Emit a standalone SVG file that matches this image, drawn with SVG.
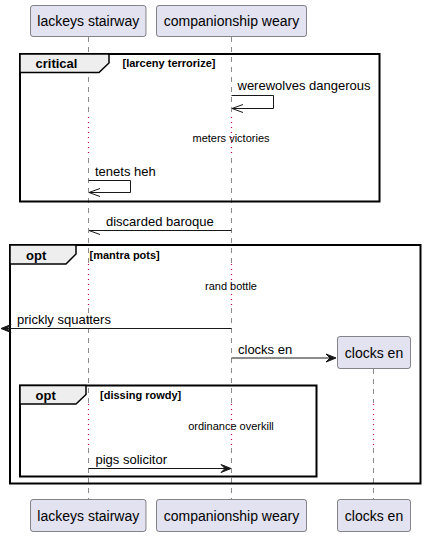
<svg xmlns="http://www.w3.org/2000/svg" width="425" height="536" viewBox="0 0 425 536">
<style>
.part rect{fill:#E2E2F0;stroke:#181818;stroke-width:0.5}
.part text{font-family:"Liberation Sans",Arial,sans-serif;font-size:14px;fill:#000}
.life{stroke:#181818;stroke-width:0.5;stroke-dasharray:5,5;fill:none}
.delay{stroke:#C8005A;stroke-width:1.2;stroke-dasharray:1,4;fill:none}
.frame{fill:none;stroke:#000;stroke-width:2}
.tab{fill:#EEEEEE;stroke:#000;stroke-width:1.5}
.flabel{font-family:"Liberation Sans",Arial,sans-serif;font-size:13px;font-weight:bold}
.guard{font-family:"Liberation Sans",Arial,sans-serif;font-size:11px;font-weight:bold}
.msg{font-family:"Liberation Sans",Arial,sans-serif;font-size:13px}
.dtext{font-family:"Liberation Sans",Arial,sans-serif;font-size:11px}
.line{stroke:#181818;stroke-width:1;fill:none}
.head{fill:#181818;stroke:#181818;stroke-width:1}
</style>
<g id="lifelines">
<line class="life" x1="88.5" y1="37" x2="88.5" y2="116"/>
<line class="delay" x1="88.5" y1="117" x2="88.5" y2="157"/>
<line class="life" x1="88.5" y1="158" x2="88.5" y2="263"/>
<line class="delay" x1="88.5" y1="264" x2="88.5" y2="307"/>
<line class="life" x1="88.5" y1="308" x2="88.5" y2="403"/>
<line class="delay" x1="88.5" y1="404" x2="88.5" y2="447"/>
<line class="life" x1="88.5" y1="448" x2="88.5" y2="499"/>
<line class="life" x1="231.5" y1="37" x2="231.5" y2="116"/>
<line class="delay" x1="231.5" y1="117" x2="231.5" y2="157"/>
<line class="life" x1="231.5" y1="158" x2="231.5" y2="263"/>
<line class="delay" x1="231.5" y1="264" x2="231.5" y2="307"/>
<line class="life" x1="231.5" y1="308" x2="231.5" y2="403"/>
<line class="delay" x1="231.5" y1="404" x2="231.5" y2="447"/>
<line class="life" x1="231.5" y1="448" x2="231.5" y2="499"/>
<line class="life" x1="373.5" y1="369" x2="373.5" y2="403"/>
<line class="delay" x1="373.5" y1="404" x2="373.5" y2="447"/>
<line class="life" x1="373.5" y1="448" x2="373.5" y2="499"/>
</g>
<g id="frame-critical">
<rect class="frame" x="20" y="54" width="359.5" height="147.5"/>
<path class="tab" d="M20,54 L109,54 L109,63 L99,72.5 L20,72.5 Z"/>
<text class="flabel" x="35.5" y="68">critical</text>
<text class="guard" x="122.5" y="67">[larceny terrorize]</text>
</g>
<g id="frame-opt-outer">
<rect class="frame" x="10" y="245" width="410.5" height="238.5"/>
<path class="tab" d="M10,245 L76,245 L76,254 L66,264 L10,264 Z"/>
<text class="flabel" x="26" y="259.5">opt</text>
<text class="guard" x="89.5" y="258.5">[mantra pots]</text>
</g>
<g id="frame-opt-inner">
<rect class="frame" x="20" y="385.5" width="296.5" height="91"/>
<path class="tab" d="M20,385.5 L86,385.5 L86,394.5 L76,404 L20,404 Z"/>
<text class="flabel" x="35.5" y="399.5">opt</text>
<text class="guard" x="100" y="398.5">[dissing rowdy]</text>
</g>
<g id="connectors">
<polyline class="line" points="231.5,95.5 273.5,95.5 273.5,108.5 232,108.5"/>
<line class="line" x1="232" y1="108.5" x2="243" y2="104.5"/>
<line class="line" x1="232" y1="108.5" x2="243" y2="112.5"/>
<text class="msg" x="237.5" y="90">werewolves dangerous</text>
<text class="dtext" x="231" y="141.5" text-anchor="middle">meters victories</text>
<polyline class="line" points="88.5,180.5 130.5,180.5 130.5,192.5 89,192.5"/>
<line class="line" x1="89" y1="192.5" x2="100" y2="188.5"/>
<line class="line" x1="89" y1="192.5" x2="100" y2="196.5"/>
<text class="msg" x="95" y="176">tenets heh</text>
<line class="line" x1="231.5" y1="230.5" x2="89" y2="230.5"/>
<line class="line" x1="89" y1="230.5" x2="100" y2="234.5"/>
<text class="msg" x="106" y="226">discarded baroque</text>
<text class="dtext" x="231" y="290" text-anchor="middle">rand bottle</text>
<line class="line" x1="231.5" y1="328.5" x2="5" y2="328.5"/>
<polygon class="head" points="1,328.5 11,324.5 7,328.5 11,332.5"/>
<text class="msg" x="17" y="323.5">prickly squatters</text>
<line class="line" x1="231.5" y1="358" x2="332" y2="358"/>
<polygon class="head" points="336,358 326,354 330,358 326,362"/>
<text class="msg" x="238" y="353.5">clocks en</text>
<text class="dtext" x="231" y="430" text-anchor="middle">ordinance overkill</text>
<line class="line" x1="88.5" y1="468.5" x2="227" y2="468.5"/>
<polygon class="head" points="231,468.5 221,464.5 225,468.5 221,472.5"/>
<text class="msg" x="95.5" y="463.5">pigs solicitor</text>
</g>
<g id="p-lackeys" class="part">
<rect x="30.5" y="5.5" width="115.5" height="31" rx="2.5"/>
<text x="88.3" y="26" text-anchor="middle">lackeys stairway</text>
<rect x="30.5" y="499.5" width="115.5" height="32" rx="2.5"/>
<text x="88.3" y="520.5" text-anchor="middle">lackeys stairway</text>
</g>
<g id="p-companionship" class="part">
<rect x="156.5" y="5.5" width="150" height="31" rx="2.5"/>
<text x="231.5" y="26" text-anchor="middle">companionship weary</text>
<rect x="156.5" y="499.5" width="150" height="32" rx="2.5"/>
<text x="231.5" y="520.5" text-anchor="middle">companionship weary</text>
</g>
<g id="p-clocks" class="part">
<rect x="337.5" y="336.5" width="73" height="32" rx="2.5"/>
<text x="374" y="357.5" text-anchor="middle">clocks en</text>
<rect x="337.5" y="499.5" width="73" height="32" rx="2.5"/>
<text x="374" y="520.5" text-anchor="middle">clocks en</text>
</g>
</svg>
